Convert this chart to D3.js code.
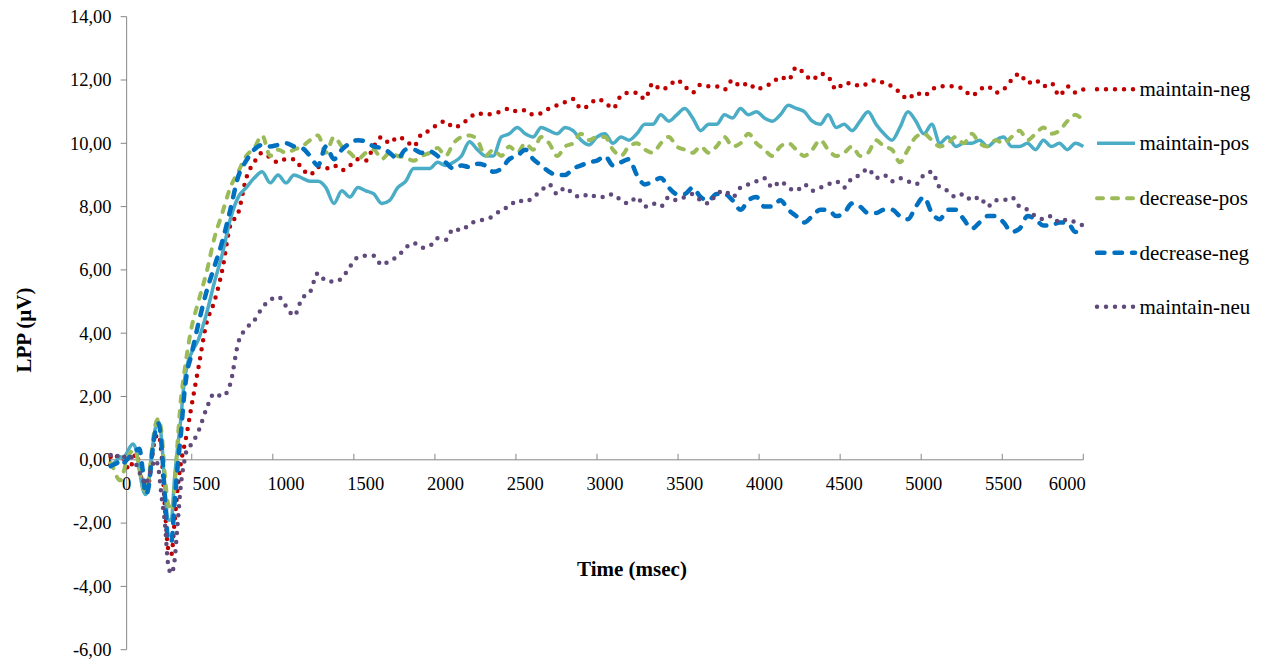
<!DOCTYPE html>
<html>
<head>
<meta charset="utf-8">
<script src="https://cdn.jsdelivr.net/npm/d3@7"></script>
<style>
  body { margin: 0; background: #fff; }
  text { font-family: "Liberation Serif", "Times New Roman", serif; fill: #000; }
</style>
</head>
<body>
<svg id="chart" width="1265" height="662"></svg>
<script>
// Sample times (ms): dense around the early deflection, every 50 ms afterwards.
const times = [
  ...d3.range(-100, 401, 20),
  ...d3.range(450, 6001, 50)
];

// LPP amplitude (µV) per condition, aligned with `times`.
const maintainNeg = [
  0.1,0.2,0.1,0.15,0.05,-0.2,-0.3,0.0,0.2,-0.2,-0.8,-1.0,-0.7,0.1,0.7,0.8,0.1,-1.5,-2.8,-3.0,-2.0,-0.9,-0.1,0.4,0.9,1.5,
  2.9,4.3,5.0,6.0,7.4,7.8,8.9,9.4,9.7,9.55,9.4,9.5,9.5,9.2,9.0,9.25,9.2,9.3,9.15,9.3,9.5,9.45,9.9,10.2,10.0,10.2,10.1,9.9,10.3,10.4,10.6,10.7,10.5,10.6,10.8,10.95,
  10.9,10.95,11.0,11.1,11.0,11.05,10.9,10.95,11.1,11.2,
  11.3,11.4,11.1,11.2,11.4,11.3,11.1,11.5,11.6,11.6,
  11.4,11.9,11.7,11.8,12.0,11.8,11.6,11.85,11.8,11.8,
  11.7,12.0,11.8,11.9,11.7,11.8,11.9,12.1,12.0,12.4,
  12.2,12.0,12.2,12.1,11.7,11.9,11.9,11.8,11.9,12.0,
  11.9,11.8,11.6,11.4,11.6,11.5,11.7,11.8,11.8,11.8,
  11.7,11.5,11.7,11.8,11.6,11.7,12.0,12.2,11.9,12.0,
  11.8,11.9,11.5,11.8,11.6,11.7
];
const maintainPos = [
  -0.15,-0.1,0.0,0.1,0.05,0.2,0.4,0.5,0.3,-0.3,-0.9,-1.1,-0.6,0.3,1.0,1.2,0.6,-0.9,-1.9,-1.9,-0.6,0.4,1.3,2.4,3.0,3.3,
  3.8,4.6,5.6,6.5,7.6,8.3,8.6,8.9,9.1,8.75,9.0,8.75,9.0,8.9,8.8,8.8,8.6,8.1,8.5,8.3,8.6,8.5,8.4,8.1,8.2,8.6,8.8,9.2,9.2,9.2,9.4,9.3,9.4,9.6,10.05,9.8,
  9.6,9.6,10.2,10.3,10.5,10.3,10.2,10.5,10.4,10.3,
  10.5,10.4,10.1,9.95,10.2,10.3,10.0,10.2,10.1,10.3,
  10.6,10.6,10.9,10.7,10.9,11.1,10.8,10.4,10.6,10.6,
  10.9,10.8,11.1,10.9,11.0,10.8,10.7,10.9,11.2,11.1,
  11.0,10.7,10.6,10.9,10.5,10.6,10.4,10.7,11.0,10.6,
  10.3,10.1,10.5,11.0,10.7,10.3,10.6,10.0,10.2,9.9,
  10.0,10.0,10.1,9.9,10.1,10.2,9.9,9.9,10.0,9.8,
  10.1,9.9,10.0,9.8,10.0,9.9
];
const decreasePos = [
  -0.1,-0.3,-0.55,-0.65,-0.4,0.0,0.2,0.3,0.2,-0.3,-0.8,-1.0,-0.5,0.4,1.1,1.3,0.8,-0.5,-1.4,-1.6,-0.9,0.6,1.9,2.7,3.4,4.0,
  5.0,5.9,7.0,7.8,8.6,9.1,9.6,9.85,10.25,9.6,9.8,9.7,9.8,9.9,10.1,10.25,9.7,10.2,9.9,9.7,9.5,9.7,9.8,9.5,9.7,9.6,9.55,9.45,9.6,9.7,9.85,9.6,10.0,10.2,10.25,10.1,
  9.6,9.8,9.6,9.9,9.7,10.0,9.8,10.2,10.0,9.6,
  9.9,10.0,10.3,10.1,10.2,10.2,9.8,9.6,9.9,10.0,
  9.8,9.7,10.0,10.2,9.9,9.8,9.7,9.9,9.7,9.9,
  10.2,9.9,10.0,10.3,10.0,9.8,9.6,9.9,10.0,9.8,
  9.6,9.8,10.1,9.8,9.6,9.7,9.9,9.6,9.7,10.1,
  9.9,9.8,9.4,9.8,10.2,10.3,10.1,9.9,10.0,10.2,
  10.0,10.3,10.0,9.9,10.1,10.0,10.2,10.4,10.1,10.3,
  10.5,10.3,10.4,10.7,10.9,10.7
];
const decreaseNeg = [
  -0.2,-0.15,-0.1,0.0,-0.1,0.0,0.1,0.2,0.3,0.35,-0.3,-1.1,-0.8,0.2,0.9,1.15,0.4,-1.2,-2.5,-2.6,-1.4,-0.2,0.8,2.0,2.8,3.2,
  4.3,5.3,6.1,6.9,7.9,8.95,9.45,9.8,9.95,9.9,9.95,10.0,9.9,9.85,9.6,9.3,9.9,9.5,9.8,10.0,10.1,10.05,9.9,9.85,9.7,9.5,9.8,9.8,9.7,9.75,9.6,9.4,9.2,9.3,9.25,9.35,
  9.3,9.1,9.2,9.5,9.6,9.8,9.5,9.3,9.1,9.0,
  9.0,9.2,9.3,9.4,9.45,9.6,9.3,9.4,9.5,9.0,
  8.7,8.8,8.9,8.6,8.4,8.4,8.6,8.3,8.2,8.4,
  8.4,8.2,7.9,8.2,8.3,8.0,8.0,8.2,7.9,7.7,
  7.5,7.7,7.9,7.9,7.7,7.8,8.1,8.0,7.8,7.8,
  7.9,7.9,7.7,7.6,8.0,8.3,7.8,7.6,7.9,7.9,
  7.6,7.3,7.5,7.7,7.7,7.5,7.2,7.3,7.7,7.6,
  7.4,7.4,7.5,7.5,7.2,7.3
];
const maintainNeu = [
  0.15,0.05,0.1,0.2,0.1,0.1,0.15,0.0,-0.15,-0.4,-0.6,-0.8,-0.5,-0.2,0.0,-0.3,-1.2,-2.0,-3.3,-3.6,-3.2,-2.0,-0.8,-0.1,0.35,0.45,
  0.9,1.6,2.1,2.0,2.4,3.7,4.15,4.4,4.8,5.05,5.15,4.85,4.55,5.1,5.3,5.9,5.65,5.63,5.74,6.1,6.4,6.45,6.45,6.15,6.3,6.42,6.7,6.85,6.7,6.75,7.0,6.95,7.3,7.25,7.45,7.55,
  7.6,7.7,7.9,8.0,8.2,8.15,8.3,8.5,8.7,8.4,
  8.6,8.4,8.3,8.4,8.3,8.3,8.4,8.2,8.1,8.3,
  8.0,8.1,8.0,8.3,8.2,8.3,8.4,8.2,8.1,8.4,
  8.5,8.3,8.6,8.7,8.8,8.9,8.6,8.8,8.6,8.5,
  8.7,8.5,8.6,8.7,8.8,8.6,8.9,9.0,9.2,8.9,
  9.0,8.8,8.9,8.8,8.7,9.0,9.1,8.6,8.5,8.3,
  8.4,8.2,8.3,8.0,8.2,8.2,8.3,8.0,7.9,7.7,
  7.6,7.7,7.5,7.6,7.5,7.4
];

const seriesNames = ["maintain-neg", "maintain-pos", "decrease-pos", "decrease-neg", "maintain-neu"];
const seriesValues = [maintainNeg, maintainPos, decreasePos, decreaseNeg, maintainNeu];
const seriesColors = ["#C00000", "#4BACC6", "#9BBB59", "#0070C0", "#604A7B"];

const xTickLabels = d3.range(0, 6001, 500);
const yTicks = d3.range(-6, 14.01, 2);
const xTickIntervals = 12;

// Line styles per series
const styles = [
  { width: 4.5, dash: "0 9", cap: "round" },
  { width: 3.5, dash: null, cap: "butt" },
  { width: 4, dash: "6 9", cap: "round" },
  { width: 4.5, dash: "7.5 10", cap: "round" },
  { width: 4.5, dash: "0 9", cap: "round" }
];

const svg = d3.select("#chart");
const x = d3.scaleLinear().domain([-100, 6000]).range([110.7, 1083.3]);
const y = d3.scaleLinear().domain([-6, 14]).range([649.7, 16.7]);
const axisColor = "#868686";
const tickFont = 18.5;
const titleFont = 21;

// Comma decimal, hyphen minus
const locale = d3.formatLocale({ decimal: ",", thousands: ".", grouping: [3], currency: ["", ""], minus: "-" });
const fmt = locale.format(".2f");

// Y axis (crosses at time 0)
const yAxisX = x(0);
svg.append("line")
  .attr("x1", yAxisX).attr("x2", yAxisX)
  .attr("y1", y(-6)).attr("y2", y(14))
  .attr("stroke", axisColor).attr("stroke-width", 1);
yTicks.forEach(v => {
  svg.append("line")
    .attr("x1", yAxisX - 6).attr("x2", yAxisX)
    .attr("y1", y(v)).attr("y2", y(v))
    .attr("stroke", axisColor).attr("stroke-width", 1);
  svg.append("text")
    .attr("x", 111.5).attr("y", y(v) + 6.3)
    .attr("text-anchor", "end")
    .attr("font-size", tickFont)
    .text(fmt(v));
});

// X axis along zero
const xAxisY = y(0);
svg.append("line")
  .attr("x1", x.range()[0]).attr("x2", x.range()[1])
  .attr("y1", xAxisY).attr("y2", xAxisY)
  .attr("stroke", axisColor).attr("stroke-width", 1);
const tickPos = d3.scaleLinear().domain([0, xTickIntervals]).range(x.range());
d3.range(xTickIntervals + 1).forEach(i => {
  svg.append("line")
    .attr("x1", tickPos(i)).attr("x2", tickPos(i))
    .attr("y1", xAxisY - 6).attr("y2", xAxisY)
    .attr("stroke", axisColor).attr("stroke-width", 1);
});
xTickLabels.forEach(t => {
  const lbl = svg.append("text")
    .attr("x", x(t)).attr("y", 490)
    .attr("text-anchor", "middle")
    .attr("font-size", tickFont)
    .text(t);
  const bb = lbl.node().getBBox();
  const maxRight = x.range()[1] + 2.5;
  if (bb.x + bb.width > maxRight) {
    lbl.attr("x", x(t) - (bb.x + bb.width - maxRight));
  }
});

// Axis titles
svg.append("text")
  .attr("x", 632).attr("y", 576)
  .attr("text-anchor", "middle")
  .attr("font-size", titleFont).attr("font-weight", "bold")
  .text("Time (msec)");
svg.append("text")
  .attr("transform", "translate(31,330) rotate(-90)")
  .attr("text-anchor", "middle")
  .attr("font-size", titleFont).attr("font-weight", "bold")
  .text("LPP (µV)");

// Series lines
const line = d3.line()
  .x((d, i) => x(times[i]))
  .y(d => y(d))
  .curve(d3.curveMonotoneX);

seriesValues.forEach((vals, k) => {
  const st = styles[k];
  svg.append("path")
    .datum(vals)
    .attr("d", line)
    .attr("fill", "none")
    .attr("stroke", seriesColors[k])
    .attr("stroke-width", st.width)
    .attr("stroke-linecap", st.cap)
    .attr("stroke-linejoin", "round")
    .attr("stroke-dasharray", st.dash);
});

// Legend
const legendY = [89.3, 143.3, 198.3, 252.7, 306.7];
seriesNames.forEach((name, k) => {
  const st = styles[k];
  const g = svg.append("g").attr("transform", `translate(0,${legendY[k]})`);
  g.append("line")
    .attr("x1", 1097).attr("x2", 1135)
    .attr("y1", 0).attr("y2", 0)
    .attr("stroke", seriesColors[k])
    .attr("stroke-width", st.width)
    .attr("stroke-linecap", st.cap)
    .attr("stroke-dasharray", st.dash);
  g.append("text")
    .attr("x", 1139.5).attr("y", 7)
    .attr("font-size", titleFont)
    .text(name);
});
</script>
</body>
</html>
